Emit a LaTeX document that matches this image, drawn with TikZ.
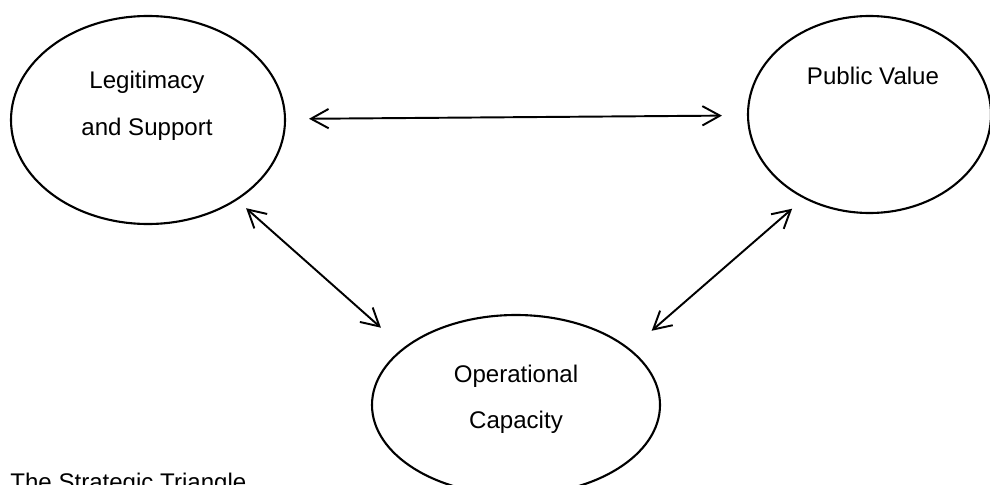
\documentclass[tikz,border=0pt]{standalone}
\usepackage{fontspec}
\setmainfont{Liberation Sans}
\usepackage{tikz}
\usetikzlibrary{shapes.geometric,arrows.meta}
\tikzstyle{blob} = [ellipse, draw=black, line width=1.2pt, inner sep=0pt]
\tikzstyle{txt} = [inner sep=0pt, text height=10pt, text depth=3pt,
font=\fontsize{13.7}{16}\selectfont]
\tikzstyle{link} = [line width=1.1pt, {Straight Barb[length=10pt,width=11pt]}-{Straight Barb[length=10pt,width=11pt]}]

\begin{document}
\begin{tikzpicture}[node distance=0.94cm]
                 \useasboundingbox (0,0) rectangle (19.8,-9.7);
                 \node (leg) [blob, minimum width=5.48cm, minimum height=4.16cm] at (2.96,-2.40) {};
                 \node (pv) [blob, minimum width=4.86cm, minimum height=3.94cm] at (17.39,-2.29) {};
                 \node (opc) [blob, minimum width=5.76cm, minimum height=3.60cm] at (10.32,-8.10) {};
                 \node (leg1) [txt] at (2.94,-1.64) {Legitimacy};
                 \node (leg2) [txt, below of=leg1] {and Support};
                 \node (pv1) [txt] at (17.46,-1.56) {Public Value};
                 \node (opc1) [txt] at (10.32,-7.52) {Operational};
                 \node (opc2) [txt, below of=opc1, node distance=0.92cm] {Capacity};
                 \node (cap) [txt, anchor=west] at (0.2,-9.68) {The Strategic Triangle};
                 \draw [link, shorten <=0.46cm, shorten >=0.5cm] (leg) -- (pv);
                 \draw [link, shorten <=0.24cm, shorten >=0.6cm] (leg.-42) -- (opc.153);
                 \draw [link, shorten <=0.31cm, shorten >=0.56cm] (pv.-128) -- (opc.26);
             \end{tikzpicture}
\end{document}
